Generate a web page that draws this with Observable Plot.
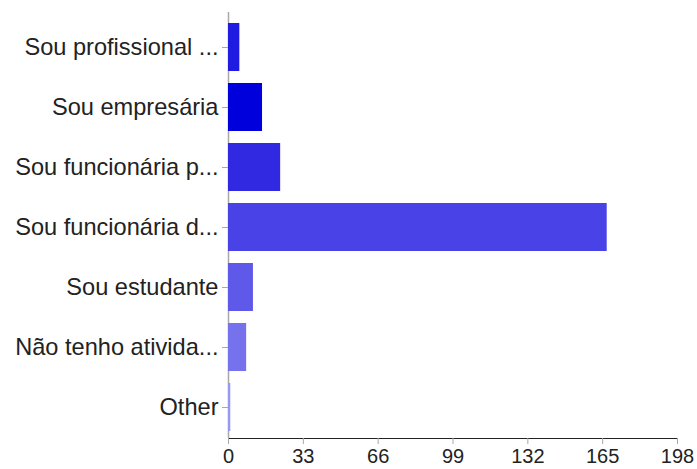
<!DOCTYPE html>
<html>
<head>
<meta charset="utf-8">
<script src="https://cdn.jsdelivr.net/npm/d3@7"></script>
<script src="https://cdn.jsdelivr.net/npm/@observablehq/plot@0.6"></script>
<style>
  html, body { margin: 0; padding: 0; background: #fff; }
  #chart svg [aria-label="x-axis tick"],
  #chart svg [aria-label="y-axis tick"] { stroke: #a8a8a8; }
  #chart svg [aria-label="x-axis tick label"] { font-size: 20px; }
</style>
</head>
<body>
<div id="chart"></div>
<script>
// Survey answers: occupation of respondents
const categories = [
  "Sou profissional ...",
  "Sou empresária",
  "Sou funcionária p...",
  "Sou funcionária d...",
  "Sou estudante",
  "Não tenho ativida...",
  "Other"
];
const counts = [5, 15, 23, 167, 11, 8, 1];
const barColors = ["#1f1be0", "#0000dc", "#3129e2", "#4943e7", "#5f59e9", "#7671ed", "#9a96f3"];
const xTicks = [0, 33, 66, 99, 132, 165, 198];

const data = categories.map((c, i) => ({category: c, count: counts[i]}));

const chart = Plot.plot({
  width: 697,
  height: 469,
  marginTop: 15,
  marginRight: 20,
  marginBottom: 31,
  marginLeft: 228,
  style: {fontFamily: "'Liberation Sans', Arial, Helvetica, sans-serif", fontSize: "23.6px", color: "#222", background: "#fff"},
  x: {domain: [0, 198], ticks: xTicks, tickSize: 6, tickPadding: 4, label: null, line: true},
  y: {domain: categories, paddingInner: 0.2, paddingOuter: 0.1, tickSize: 6, tickPadding: 4, label: null},
  color: {type: "ordinal", domain: categories, range: barColors},
  marks: [
    Plot.ruleX([0], {stroke: "#a8a8a8", strokeWidth: 1.5, insetTop: -3}),
    Plot.barX(data, {x: "count", y: "category", fill: "category"})
  ]
});
document.getElementById("chart").appendChild(chart);
</script>
</body>
</html>
